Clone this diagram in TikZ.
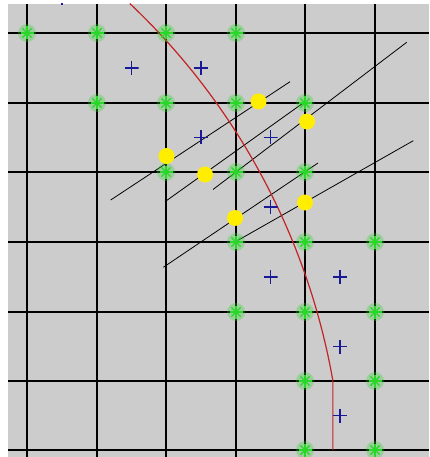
\documentclass[tikz,border=0pt]{standalone}
\usepackage{tikz}
\usetikzlibrary{calc}
\usepackage{xcolor}
\definecolor{panel}{RGB}{204,204,204}
\definecolor{cellplus}{RGB}{25,25,150}
\definecolor{edgegreen}{RGB}{40,215,40}
\definecolor{front}{RGB}{195,35,35}
\definecolor{hit}{RGB}{255,238,0}

\begin{document}
\begin{tikzpicture}[x=1pt,y=-1pt,
  gridline/.style={black,line width=2pt},
  ray/.style={black,line width=0.8pt},
  front line/.style={front,line width=1.2pt},
  gmark/.style={circle,inner sep=0pt,minimum size=18pt,
    preaction={fill=edgegreen,fill opacity=0.3},
    path picture={\foreach \a in {0,45,90,135}
      \draw[edgegreen,line width=1.4pt,draw opacity=1]
        ([shift={(\a:6.5)}]path picture bounding box.center) --
        ([shift={(\a+180:6.5)}]path picture bounding box.center);}},
  bplus/.style={inner sep=0pt,minimum size=14pt,
    path picture={\draw[cellplus,line width=1.4pt]
      (path picture bounding box.north) -- (path picture bounding box.south)
      (path picture bounding box.west) -- (path picture bounding box.east);}},
  hitdot/.style={circle,fill=hit,inner sep=0pt,minimum size=16pt}]
\useasboundingbox (0,0) rectangle (429,457);
\fill[panel] (8,4) rectangle (429,457);

% grid
\foreach \x in {27,97,166,236,305,375}
  \draw[gridline] (\x,4) -- (\x,457);
\foreach \y in {33,103,172,242,312,381,450}
  \draw[gridline] (8,\y) -- (429,\y);

% rays
\coordinate (a0) at (110.7,200);   \coordinate (a1) at (290,81.7);
\coordinate (b0) at (165,201.7);   \coordinate (b1) at (305,101.7);
\coordinate (c0) at (213,189.5);   \coordinate (c1) at (406.7,42.3);
\coordinate (d0) at (163.3,267.3); \coordinate (d1) at (318,163);
\coordinate (e0) at (235,242);     \coordinate (e1) at (413.3,140.7);
\draw[ray] (a0) -- (a1);
\draw[ray] (b0) -- (b1);
\draw[ray] (c0) -- (c1);
\draw[ray] (d0) -- (d1);
\draw[ray] (e0) -- (e1);

% interface
\coordinate (ctr) at (-338.8,499);
\draw[front line] ($(ctr)+(-46.6:682)$) arc[start angle=-46.6,end angle=-10,radius=682]
  -- ++(0,69.4);

% grid nodes
\foreach \x/\y [count=\k] in {27/33,97/33,166/33,236/33,97/103,166/103,236/103,305/103,
    166/172,236/172,305/172,236/242,305/242,375/242,236/312,305/312,375/312,
    305/381,375/381,305/450,375/450}
  \node[gmark] (g\k) at (\x,\y) {};

% cell centres
\foreach \x/\y [count=\k] in {131.5/68,201/68,201/137.5,270.5/137.5,270.5/207,
    270.5/277,340/277,340/346.5,340/415.5}
  \node[bplus] (p\k) at (\x,\y) {};
\begin{scope}
  \clip (8,4) rectangle (429,457);
  \node[bplus] (p0) at (62,-1.5) {};
\end{scope}

% crossing points
\node[hitdot] (y1) at (166.5,156) {};
\node[hitdot] (y2) at (205,174.5) {};
\node[hitdot] (y3) at (258.5,101.5) {};
\node[hitdot] (y4) at (307,121.5) {};
\node[hitdot] (y5) at (235,218) {};
\node[hitdot] (y6) at (305,202.5) {};
\end{tikzpicture}
\end{document}
